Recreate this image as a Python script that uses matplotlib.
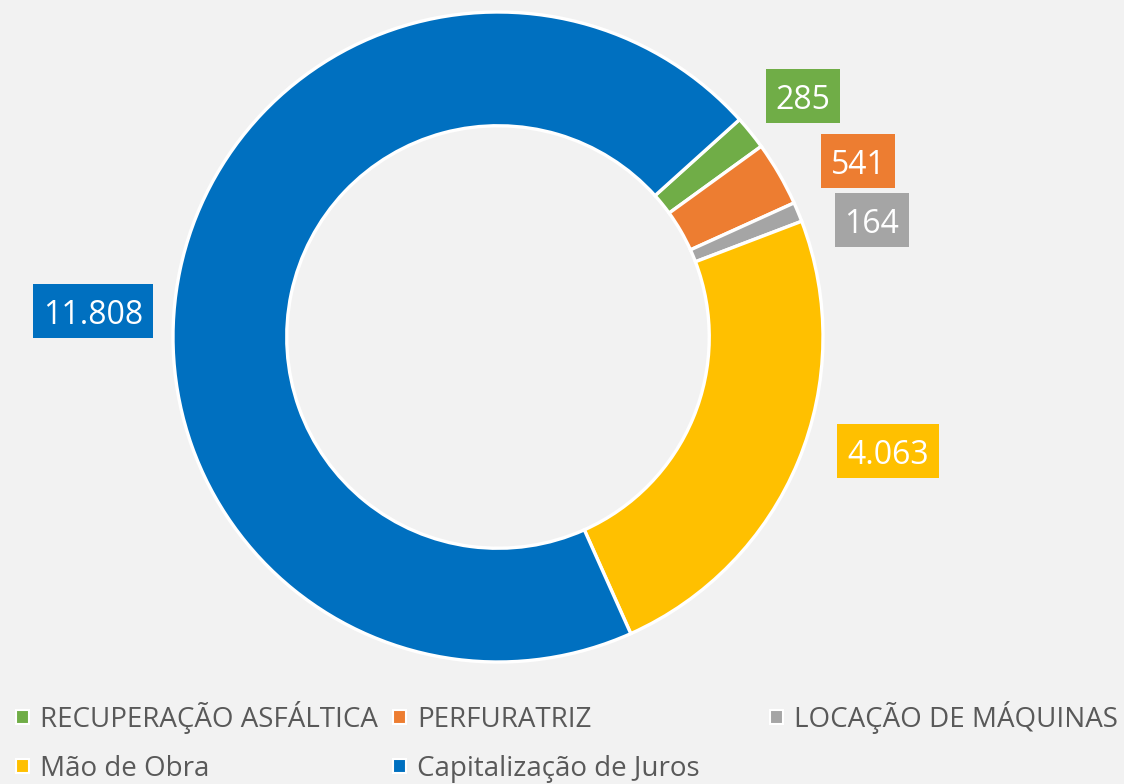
import matplotlib.pyplot as plt
from matplotlib.patches import Rectangle

# data
categories = ['RECUPERAÇÃO ASFÁLTICA', 'PERFURATRIZ', 'LOCAÇÃO DE MÁQUINAS',
              'Mão de Obra', 'Capitalização de Juros']
values = [285, 541, 164, 4063, 11808]
value_labels = ['285', '541', '164', '4.063', '11.808']
colors = ['#70AD47', '#ED7D31', '#A5A5A5', '#FFC000', '#0070C0']

W, H = 1124, 784
plt.rcParams['font.family'] = ['Open Sans', 'DejaVu Sans']

fig = plt.figure(figsize=(W / 100, H / 100), dpi=100, facecolor='#F2F2F2')
ax = fig.add_axes([0, 0, 1, 1])


def fy(py):
    # pixel row -> data y
    return H - py


# donut
ax.pie(values, colors=colors, center=(498, fy(337)), radius=325,
       startangle=42, counterclock=False, frame=True,
       wedgeprops=dict(width=325 * 0.35, edgecolor='white', linewidth=2.4))
ax.set_xlim(0, W)
ax.set_ylim(0, H)
ax.set_aspect('equal')
ax.axis('off')

# data labels (box centres in pixels), boxes sized like excel's
renderer = fig.canvas.get_renderer()
label_pos = [(803, 96), (858, 161), (872, 220), (888, 451), (93, 311)]
for (px, py), lab, c in zip(label_pos, value_labels, colors):
    t = ax.text(px, fy(py), lab, ha='center', va='center_baseline',
                fontsize=23, color='white', zorder=5)
    bw = t.get_window_extent(renderer).width + 20
    ax.add_patch(Rectangle((px - bw / 2, fy(py) - 27), bw, 54,
                           facecolor=c, edgecolor='none', zorder=4))

# legend, drawn by hand to keep the Excel spacing
leg_pos = [(16, 727), (393, 727), (770, 727), (16, 776), (393, 776)]
for (px, py), name, c in zip(leg_pos, categories, colors):
    ax.add_patch(Rectangle((px, fy(py) + 3), 13, 14, facecolor=c,
                           edgecolor='white', linewidth=1.5))
    ax.text(px + 24, fy(py), name, ha='left', va='baseline', fontsize=20,
            color='#595959')

fig.savefig('out.png', dpi=100, facecolor=fig.get_facecolor())
